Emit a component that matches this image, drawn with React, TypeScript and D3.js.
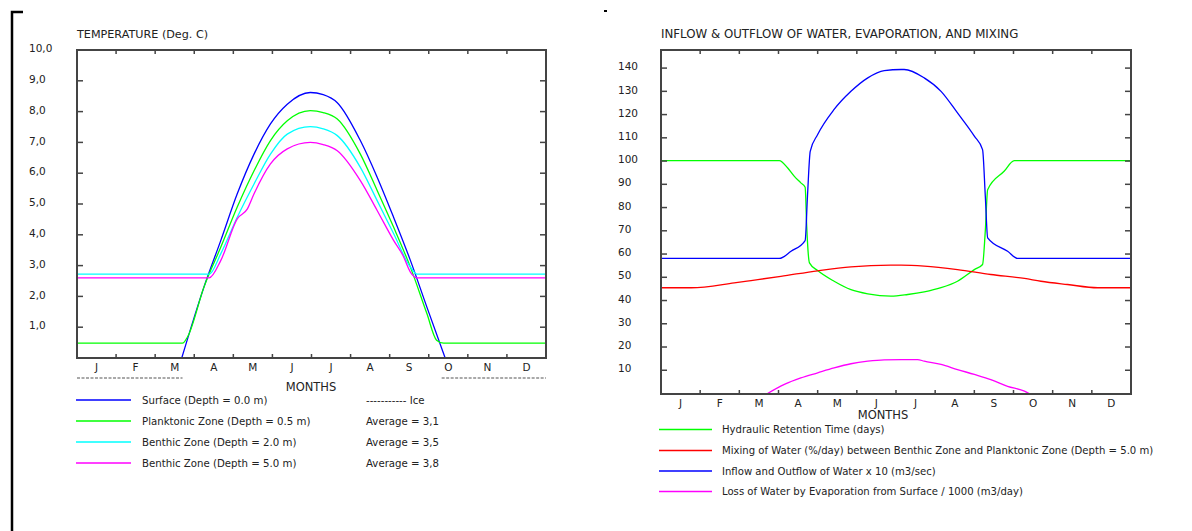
import React from 'react';
import * as d3 from 'd3';

type Pt = [number, number];

const MONTH_LABELS = ['J', 'F', 'M', 'A', 'M', 'J', 'J', 'A', 'S', 'O', 'N', 'D'];
const TEMP_TICKS = [1, 2, 3, 4, 5, 6, 7, 8, 9, 10];
const FLOW_TICKS = [10, 20, 30, 40, 50, 60, 70, 80, 90, 100, 110, 120, 130, 140];

// Temperature (deg C) by month position (0..12)
const surfaceTemp: Pt[] = [
  [2.68, 0], [3.25, 2.31], [3.68, 3.82], [4.1, 5.33], [4.53, 6.62], [4.95, 7.6], [5.38, 8.24],
  [5.97, 8.62], [6.3, 8.55], [6.66, 8.29], [7.25, 7.06], [7.68, 5.87], [8.1, 4.57], [8.53, 3.17],
  [8.95, 1.66], [9.42, 0],
];
const planktonicTemp: Pt[] = [
  [0, 0.48], [2.7, 0.48], [2.83, 0.69], [3.25, 2.31], [3.68, 3.6], [4.1, 4.9], [4.53, 6.08], [4.95, 7.06],
  [5.38, 7.7], [5.97, 8.03], [6.3, 7.97], [6.66, 7.76], [7.25, 6.62], [7.68, 5.44], [8.1, 4.25], [8.53, 2.95],
  [8.95, 1.45], [9.2, 0.58], [9.38, 0.48], [12, 0.48],
];
const benthic2Temp: Pt[] = [
  [0, 2.72], [3.38, 2.72], [3.68, 3.39], [4.1, 4.57], [4.53, 5.65], [4.95, 6.62], [5.38, 7.27],
  [5.97, 7.51], [6.3, 7.44], [6.66, 7.22], [7.25, 6.19], [7.68, 5.11], [8.1, 4.04], [8.53, 2.95],
  [8.7, 2.72], [12, 2.72],
];
const benthic5Temp: Pt[] = [
  [0, 2.6], [3.38, 2.6], [3.68, 3.17], [4.1, 4.52], [4.36, 4.84], [4.53, 5.33], [4.95, 6.3], [5.38, 6.79],
  [5.97, 7.0], [6.3, 6.93], [6.66, 6.73], [7.25, 5.76], [7.68, 4.79], [8.1, 3.82], [8.34, 3.33],
  [8.53, 2.79], [8.7, 2.6], [12, 2.6],
];
const icePeriods: Pt[] = [[0, 2.7], [9.33, 12]];
const tempLegendLabels = [
  'Surface (Depth = 0.0 m)',
  'Planktonic Zone (Depth = 0.5 m)',
  'Benthic Zone (Depth = 2.0 m)',
  'Benthic Zone (Depth = 5.0 m)',
];
const tempLegendNotes = ['----------- Ice', 'Average = 3,1', 'Average = 3,5', 'Average = 3,8'];

// Water balance series
const retentionTime: Pt[] = [
  [0, 100.2], [3.02, 100.2], [3.23, 97.1], [3.4, 93.5], [3.57, 90.6], [3.68, 88.7], [3.72, 72],
  [3.76, 60], [3.79, 56.2], [4.0, 52.9], [4.42, 48.3], [4.85, 44.7], [5.28, 42.9], [5.87, 41.9],
  [6.3, 42.6], [6.72, 43.7], [7.15, 45.5], [7.57, 48.3], [8.0, 53.3], [8.21, 55.5], [8.28, 70],
  [8.34, 87.7], [8.76, 95.6], [9.02, 100.2], [12, 100.2],
];
const mixingRate: Pt[] = [
  [0, 45.5], [0.77, 45.5], [1.87, 47.6], [2.3, 48.6], [3.06, 50.4], [4.0, 52.8], [4.85, 54.5],
  [5.87, 55.2], [6.13, 55.2], [6.72, 54.8], [7.57, 53.3], [8.42, 51.2], [9.28, 49.5], [9.7, 48.3],
  [10.38, 46.9], [11.15, 45.5], [12, 45.5],
];
const inflowOutflow: Pt[] = [
  [0, 58.1], [3.02, 58.1], [3.32, 61.2], [3.68, 65.8], [3.74, 85], [3.81, 104.2], [4.0, 111.4],
  [4.42, 122.2], [4.85, 130], [5.28, 135.8], [5.7, 138.9], [6.13, 139.4], [6.21, 139.4], [6.72, 135.8],
  [7.15, 130], [7.57, 120.7], [8.0, 110.7], [8.21, 104.9], [8.28, 85], [8.34, 67], [8.85, 61.2],
  [9.11, 58.1], [12, 58.1],
];
const evaporationLoss: Pt[] = [
  [2.72, 0], [3.15, 3.9], [3.57, 6.7], [4.0, 8.9], [4.42, 11.0], [4.85, 12.8], [5.28, 13.9], [5.7, 14.5],
  [6.13, 14.6], [6.55, 14.6], [6.72, 13.9], [7.15, 12.5], [7.57, 10.3], [8.0, 8.2], [8.42, 6.0],
  [8.85, 3.1], [9.28, 1.0], [9.4, 0],
];
const flowLegendLabels = [
  'Hydraulic Retention Time (days)',
  'Mixing of Water (%/day) between Benthic Zone and Planktonic Zone (Depth = 5.0 m)',
  'Inflow and Outflow of Water x 10 (m3/sec)',
  'Loss of Water by Evaporation from Surface / 1000 (m3/day)',
];

const FONT = "'DejaVu Sans', Verdana, sans-serif";
const TEXT = '#222';
const FRAME = '#444';

interface Series { data: Pt[]; color: string; }

interface PanelProps {
  id: string;
  x0: number; x1: number; y0: number; y1: number;
  yMax: number; yBottom: number; yTop: number;
  ticks: number[];
  fmt: (v: number) => string;
  labelX: number;
  title: string;
  titleSize: number;
  monthY: number;
  monthsTitleX: number; monthsTitleY: number;
  series: Series[];
}

function Panel(p: PanelProps) {
  const x = d3.scaleLinear().domain([0, 12]).range([p.x0, p.x1]);
  const y = d3.scaleLinear().domain([0, p.yMax]).range([p.yBottom, p.yTop]);
  const line = d3.line<Pt>().x(d => x(d[0])).y(d => y(d[1])).curve(d3.curveMonotoneX);
  const inner = d3.range(1, 12);
  return (
    <g>
      <defs>
        <clipPath id={p.id}>
          <rect x={p.x0} y={p.y0} width={p.x1 - p.x0} height={p.y1 - p.y0} />
        </clipPath>
      </defs>
      <text x={p.x0} y={38} fontSize={p.titleSize} fill={TEXT} fontFamily={FONT}>{p.title}</text>
      <g clipPath={`url(#${p.id})`}>
        {p.series.map((s, i) => (
          <path key={i} d={line(s.data) || ''} fill="none" stroke={s.color} strokeWidth={1.3} />
        ))}
      </g>
      <rect x={p.x0} y={p.y0} width={p.x1 - p.x0} height={p.y1 - p.y0} fill="none" stroke={FRAME} strokeWidth={2} />
      {inner.map(m => (
        <g key={m}>
          <line x1={x(m)} x2={x(m)} y1={p.y0} y2={p.y0 + 4} stroke={FRAME} strokeWidth={1.5} />
          <line x1={x(m)} x2={x(m)} y1={p.y1} y2={p.y1 - 4} stroke={FRAME} strokeWidth={1.5} />
        </g>
      ))}
      {p.ticks.map(t => (
        <g key={t}>
          {y(t) > p.y0 + 2 && (
            <>
              <line x1={p.x0} x2={p.x0 + 6} y1={y(t)} y2={y(t)} stroke={FRAME} strokeWidth={1.5} />
              <line x1={p.x1} x2={p.x1 - 6} y1={y(t)} y2={y(t)} stroke={FRAME} strokeWidth={1.5} />
            </>
          )}
          <text x={p.labelX} y={y(t) - 1.5} dy="0.35em" fontSize={10.5} fill={TEXT} fontFamily={FONT}>{p.fmt(t)}</text>
        </g>
      ))}
      {MONTH_LABELS.map((l, i) => (
        <text key={i} x={x(i + 0.5)} y={p.monthY} dy="0.35em" textAnchor="middle" fontSize={10.5} fill={TEXT} fontFamily={FONT}>{l}</text>
      ))}
      <text x={p.monthsTitleX} y={p.monthsTitleY} dy="0.35em" textAnchor="middle" fontSize={11.5} fill={TEXT} fontFamily={FONT}>MONTHS</text>
    </g>
  );
}

export default function App() {
  const tempColors = ['#0000ff', '#00ff00', '#00ffff', '#ff00ff'];
  const tempData = [surfaceTemp, planktonicTemp, benthic2Temp, benthic5Temp];
  const flowColors = ['#00ff00', '#ff0000', '#0000ff', '#ff00ff'];
  const flowData = [retentionTime, mixingRate, inflowOutflow, evaporationLoss];
  const xLeft = d3.scaleLinear().domain([0, 12]).range([77, 546]);
  const leftRows = [400, 421, 442, 463];
  const rightRows = [429.5, 450.5, 471, 491.5];
  return (
    <svg width={1192} height={531} style={{ position: 'absolute', left: 0, top: 0, background: '#fff' }}>
      <rect x={0} y={0} width={1192} height={531} fill="#fff" />
      <path d="M12,531 V12 H23" fill="none" stroke="#000" strokeWidth={2.5} />
      <rect x={604} y={10} width={3} height={2} fill="#000" />

      <Panel
        id="clipL" x0={77} x1={546} y0={50} y1={358}
        yMax={10} yBottom={358} yTop={50}
        ticks={TEMP_TICKS} fmt={v => d3.format('.1f')(v).replace('.', ',')} labelX={29}
        title="TEMPERATURE (Deg. C)" titleSize={11.2} monthY={367} monthsTitleX={311} monthsTitleY={387}
        series={tempData.map((d, i) => ({ data: d, color: tempColors[i] }))}
      />
      {icePeriods.map((p, i) => (
        <line key={i} x1={xLeft(p[0])} x2={xLeft(p[1])} y1={378} y2={378} stroke="#555" strokeWidth={1.2} strokeDasharray="3,1.5" />
      ))}
      {tempLegendLabels.map((l, i) => (
        <g key={i}>
          <line x1={76} x2={131} y1={leftRows[i]} y2={leftRows[i]} stroke={tempColors[i]} strokeWidth={1.3} />
          <text x={142} y={leftRows[i]} dy="0.35em" fontSize={10.2} fill={TEXT} fontFamily={FONT}>{l}</text>
          <text x={366} y={leftRows[i]} dy="0.35em" fontSize={10.2} fill={TEXT} fontFamily={FONT}>{tempLegendNotes[i]}</text>
        </g>
      ))}

      <Panel
        id="clipR" x0={661} x1={1131} y0={50} y1={394}
        yMax={148} yBottom={393.5} yTop={49.5}
        ticks={FLOW_TICKS} fmt={v => String(v)} labelX={618}
        title="INFLOW & OUTFLOW OF WATER, EVAPORATION, AND MIXING" titleSize={11.8} monthY={403} monthsTitleX={883} monthsTitleY={415}
        series={flowData.map((d, i) => ({ data: d, color: flowColors[i] }))}
      />
      {flowLegendLabels.map((l, i) => (
        <g key={i}>
          <line x1={659} x2={712} y1={rightRows[i]} y2={rightRows[i]} stroke={flowColors[i]} strokeWidth={1.3} />
          <text x={722} y={rightRows[i]} dy="0.35em" fontSize={10.1} fill={TEXT} fontFamily={FONT}>{l}</text>
        </g>
      ))}
    </svg>
  );
}
